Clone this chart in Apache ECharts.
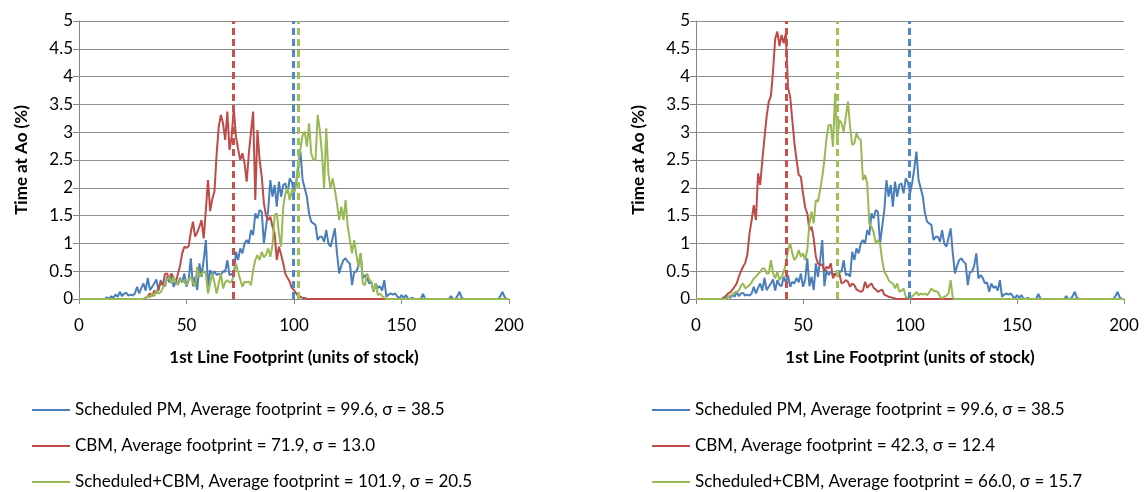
<!DOCTYPE html>
<html>
<head>
<meta charset="utf-8">
<script src="https://cdn.jsdelivr.net/npm/echarts/dist/echarts.min.js"></script>
<style>
html,body{margin:0;padding:0;background:#fff;}
#chart{width:1148px;height:492px;}
</style>
</head>
<body>
<div id="chart"></div>
<script>
// ---- data (x = footprint 0..200, one value per unit) ----
const scheduledPM = [
0,0,0,0,0,0,0,0,0,0,
0,0,0,0.03,0,0.05,0.02,0.08,0.04,0.13,
0.05,0.1,0.11,0.06,0.08,0.06,0.1,0.22,0.1,0.2,
0.28,0.15,0.38,0.16,0.22,0.28,0.35,0.15,0.34,0.25,
0.23,0.4,0.3,0.43,0.22,0.31,0.28,0.38,0.3,0.46,
0.22,0.34,0.73,0.23,0.4,0.16,0.64,0.4,0.7,1.06,
0.23,0.52,0.43,0.5,0.43,0.46,0.43,0.5,0.49,0.7,
0.43,0.45,0.4,0.85,0.7,0.91,0.82,1.0,1.06,1.0,
1.24,1.15,1.54,1.45,1.6,1.57,1.0,1.3,1.6,2.14,
1.84,2.05,1.66,2.11,1.84,2.05,2.08,1.9,2.17,2.1,
1.9,2.08,2.35,2.65,2.14,1.99,1.84,1.54,1.39,1.36,
1.33,1.06,1.12,1.12,1.03,1.24,1.0,0.94,1.1,1.27,
0.82,0.46,0.6,0.7,0.73,0.67,0.64,0.25,0.49,0.49,
0.6,0.82,0.37,0.43,0.38,0.28,0.3,0.13,0.28,0.2,
0.23,0.15,0.34,0.04,0.08,0.1,0.08,0.1,0.05,0.01,
0.07,0.02,0.07,0.01,0,0.02,0,0,0,0,
0.09,0,0,0,0,0,0,0,0,0,
0,0,0,0.05,0,0,0.05,0.13,0.02,0,
0,0,0,0,0,0,0,0,0,0,
0,0,0,0,0,0,0.05,0.13,0.03,0,
0
];
const cbmLeft = [
0,0,0,0,0,0,0,0,0,0,
0,0,0,0,0,0,0,0,0,0,
0,0,0,0,0,0,0,0,0,0,
0,0.02,0.05,0.1,0.05,0.15,0.1,0.2,0.3,0.25,
0.45,0.46,0.35,0.46,0.38,0.3,0.45,0.6,0.82,0.94,
0.92,0.95,1.2,1.39,1.12,1.2,1.3,1.42,1.09,1.6,
2.14,1.58,1.8,1.93,2.6,3.1,3.31,3.16,2.86,3.37,
2.68,2.92,3.43,2.92,2.7,2.5,2.62,2.44,2.11,2.62,
3.0,3.37,1.78,3.04,2.5,2.2,1.72,1.5,1.42,1.48,
1.3,1.18,0.7,0.94,0.8,0.64,0.45,0.38,0.31,0.2,
0.16,0.1,0.05,0.04,0.02,0.02,0,0,0,0,
0,0,0,0,0,0,0,0,0,0,
0,0,0,0,0,0,0,0,0,0,
0,0,0,0,0,0,0,0,0,0,
0,0,0,0,0,0,0,0,0,0,
0,0,0,0,0,0,0,0,0,0,
0,0,0,0,0,0,0,0,0,0,
0,0,0,0,0,0,0,0,0,0,
0,0,0,0,0,0,0,0,0,0,
0,0,0,0,0,0,0,0,0,0,
0
];
const schedCbmLeft = [
0,0,0,0,0,0,0,0,0,0,
0,0,0,0,0,0,0,0,0,0,
0,0,0,0,0,0,0,0,0,0,
0,0.02,0.05,0.03,0.1,0.05,0.16,0.1,0.12,0.2,
0.28,0.35,0.4,0.28,0.4,0.3,0.25,0.35,0.34,0.3,
0.25,0.35,0.4,0.3,0.22,0.58,0.4,0.45,0.5,0.45,
0.1,0.28,0.46,0.3,0.1,0.28,0.46,0.19,0.3,0.34,
0.3,0.31,0.43,0.64,0.49,0.35,0.22,0.31,0.3,0.31,
0.25,0.52,0.7,0.79,0.7,0.85,0.75,0.8,0.91,0.76,
0.97,1.51,1.54,1.18,0.94,1.66,1.9,1.99,1.78,1.96,
1.93,2.11,2.47,2.71,2.95,3.01,2.74,3.16,2.62,2.5,
2.5,3.31,3.04,2.62,1.99,3.07,2.26,1.99,2.17,1.96,
1.72,1.42,1.66,1.42,1.78,1.3,1.06,0.82,1.06,0.8,
0.58,0.82,0.28,0.25,0.46,0.35,0.31,0.13,0.28,0.07,
0.1,0.05,0.02,0,0,0,0,0,0,0,
0,0,0,0,0,0,0,0,0,0,
0,0,0,0,0,0,0,0,0,0,
0,0,0,0,0,0,0,0,0,0,
0,0,0,0,0,0,0,0,0,0,
0,0,0,0,0,0,0,0,0,0,
0
];
const cbmRight = [
0,0,0,0,0,0,0,0,0,0,
0,0,0,0.02,0.06,0.1,0.12,0.17,0.22,0.28,
0.4,0.5,0.58,0.65,0.8,1.18,1.42,1.69,1.42,2.26,
2.05,2.5,2.9,3.28,3.55,3.65,4.1,4.68,4.81,4.55,
4.75,4.6,4.78,3.8,3.64,3.22,2.8,2.5,2.23,2.2,
1.9,1.65,1.54,1.24,1.3,1.09,0.76,0.64,0.61,0.62,
0.5,0.58,0.55,0.64,0.37,0.46,0.4,0.46,0.28,0.3,
0.34,0.31,0.22,0.28,0.25,0.17,0.15,0.13,0.15,0.31,
0.2,0.25,0.28,0.2,0.17,0.13,0.15,0.17,0.08,0.06,
0.04,0.03,0.02,0.01,0,0,0,0,0,0,
0,0,0,0,0,0,0,0,0,0,
0,0,0,0,0,0,0,0,0,0,
0,0,0,0,0,0,0,0,0,0,
0,0,0,0,0,0,0,0,0,0,
0,0,0,0,0,0,0,0,0,0,
0,0,0,0,0,0,0,0,0,0,
0,0,0,0,0,0,0,0,0,0,
0,0,0,0,0,0,0,0,0,0,
0,0,0,0,0,0,0,0,0,0,
0,0,0,0,0,0,0,0,0,0,
0
];
const schedCbmRight = [
0,0,0,0,0,0,0,0,0,0,
0,0,0,0,0,0.03,0.06,0.08,0.12,0.13,
0.15,0.24,0.28,0.19,0.22,0.25,0.3,0.37,0.4,0.45,
0.49,0.55,0.55,0.46,0.46,0.7,0.46,0.37,0.49,0.34,
0.4,0.49,0.64,0.88,1.0,0.82,0.7,0.76,0.88,0.76,
0.82,0.7,0.88,1.36,1.57,1.36,1.78,1.75,1.96,2.2,
2.5,2.9,3.13,3.13,2.74,3.7,2.86,3.22,3.16,3.01,
3.28,3.55,3.1,2.77,2.8,2.98,2.89,2.86,2.14,2.23,
2.08,1.36,1.3,1.2,1.0,1.06,1.0,0.7,0.49,0.43,
0.34,0.3,0.28,0.19,0.28,0.13,0.15,0.19,0.04,0.02,
0,0.05,0.08,0.13,0.07,0.1,0.08,0.1,0.07,0.12,
0.19,0.15,0.14,0.13,0.05,0.01,0.04,0.06,0.1,0.34,
0.01,0,0,0,0,0,0,0,0,0,
0,0,0,0,0,0,0,0,0,0,
0,0,0,0,0,0,0,0,0,0,
0,0,0,0,0,0,0,0,0,0,
0,0,0,0,0,0,0,0,0,0,
0,0,0,0,0,0,0,0,0,0,
0,0,0,0,0,0,0,0,0,0,
0,0,0,0,0,0,0,0,0,0,
0
];
const avgLeft = [99.6, 71.9, 101.9];
const avgRight = [99.6, 42.3, 66.0];
const namesLeft = [
  'Scheduled PM, Average footprint = 99.6, σ = 38.5',
  'CBM, Average footprint = 71.9, σ = 13.0',
  'Scheduled+CBM, Average footprint = 101.9, σ = 20.5'
];
const namesRight = [
  'Scheduled PM, Average footprint = 99.6, σ = 38.5',
  'CBM, Average footprint = 42.3, σ = 12.4',
  'Scheduled+CBM, Average footprint = 66.0, σ = 15.7'
];
const xTitle = '1st Line Footprint (units of stock)';
const yTitle = 'Time at Ao (%)';

// ---- styling ----
const lineColors = ['#4A7EBB', '#BE4B48', '#98B954'];
const dashColors = ['#4F87C9', '#C9504C', '#9DC353'];
const FONT = 'Lato, Carlito, "Open Sans", sans-serif';
const FS = 17;

function toPairs(arr) { return arr.map((v, i) => [i, v]); }

function xAx(gi) {
  return {
    gridIndex: gi, type: 'value', min: 0, max: 200, interval: 50,
    name: xTitle, nameLocation: 'middle', nameGap: 50,
    nameTextStyle: { fontFamily: FONT, fontSize: FS, fontWeight: 'bold', color: '#000' },
    axisLine: { show: true, lineStyle: { color: '#868686', width: 1 } },
    axisTick: { show: true, length: 5, lineStyle: { color: '#868686' } },
    axisLabel: { fontFamily: FONT, fontSize: FS, color: '#000', margin: 18 },
    splitLine: { show: false }
  };
}
function yAx(gi) {
  return {
    gridIndex: gi, type: 'value', min: 0, max: 5, interval: 0.5,
    name: yTitle, nameLocation: 'middle', nameGap: 49, nameRotate: 90,
    nameTextStyle: { fontFamily: FONT, fontSize: FS, fontWeight: 'bold', color: '#000' },
    axisLine: { show: true, lineStyle: { color: '#868686', width: 1 } },
    axisTick: { show: true, length: 6, lineStyle: { color: '#868686' } },
    axisLabel: { fontFamily: FONT, fontSize: FS, color: '#000', margin: 6 },
    splitLine: { show: true, lineStyle: { color: '#8C8C8C', width: 1 } }
  };
}
function lineSeries(name, data, gi, ci, avg) {
  return {
    name: name, type: 'line', xAxisIndex: gi, yAxisIndex: gi,
    data: toPairs(data), showSymbol: false, symbol: 'none',
    lineStyle: { color: lineColors[ci], width: 2 },
    itemStyle: { color: lineColors[ci] },
    z: 2 + ci,
    animation: false,
    markLine: {
      silent: true, symbol: 'none', label: { show: false },
      lineStyle: { color: dashColors[ci], type: [7, 4], width: 3 },
      data: [{ xAxis: avg }], animation: false
    }
  };
}
function legendFor(left, names) {
  return {
    orient: 'vertical', left: left, top: 401, data: names,
    padding: 0, height: 91,
    icon: 'rect', itemWidth: 38, itemHeight: 2, itemGap: 18,
    textStyle: { fontFamily: FONT, fontSize: FS, color: '#000', lineHeight: 18 },
    selectedMode: false
  };
}

const leftData = [scheduledPM, cbmLeft, schedCbmLeft];
const rightData = [scheduledPM, cbmRight, schedCbmRight];
const series = [];
for (let i = 0; i < 3; i++) series.push(lineSeries(namesLeft[i], leftData[i], 0, i, avgLeft[i]));
for (let i = 0; i < 3; i++) series.push(lineSeries(namesRight[i], rightData[i], 1, i, avgRight[i]));

const chart = echarts.init(document.getElementById('chart'), null, { renderer: 'canvas' });
chart.setOption({
  animation: false,
  backgroundColor: '#fff',
  grid: [
    { left: 79, top: 21, width: 430, height: 278 },
    { left: 696, top: 21, width: 428, height: 278 }
  ],
  xAxis: [xAx(0), xAx(1)],
  yAxis: [yAx(0), yAx(1)],
  legend: [legendFor(32, namesLeft), legendFor(652, namesRight)],
  series: series
});
</script>
</body>
</html>
